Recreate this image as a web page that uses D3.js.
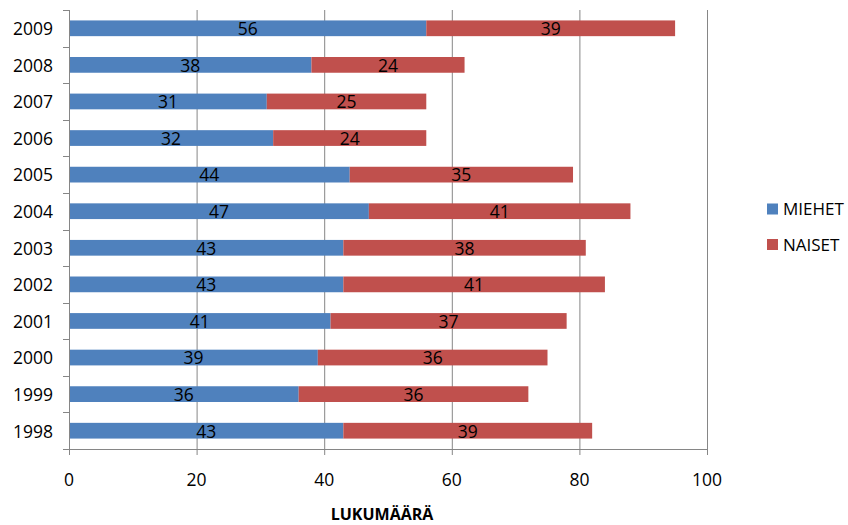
<!DOCTYPE html>
<html><head><meta charset="utf-8">
<script src="https://cdn.jsdelivr.net/npm/d3@7"></script>
<style>body{margin:0;background:#fff}svg{display:block}text{font-family:"Open Sans",sans-serif}</style>
</head><body><svg id="c" width="848" height="525"></svg>
<script>
const years = ["1998","1999","2000","2001","2002","2003","2004","2005","2006","2007","2008","2009"];
const miehet = [43,36,39,41,43,43,47,44,32,31,38,56];
const naiset = [39,36,36,37,41,38,41,35,24,25,24,39];
const xTicks = [0,20,40,60,80,100];
const seriesNames = ["MIEHET","NAISET"];
const colors = ["#4F81BD","#C0504D"];

const svg = d3.select("#c");
const L=69, R=707, T=10, B=449;
const x = d3.scaleLinear().domain([0,100]).range([L,R]);
const y = d3.scaleBand().domain(years.slice().reverse()).range([T,B]).paddingInner(0.57).paddingOuter(0.285);
const yb = d3.scaleBand().domain(years.slice().reverse()).range([T,B]);

// gridlines
svg.append("g").selectAll("line").data(xTicks.slice(1)).join("line")
  .attr("x1",d=>x(d)+0.5).attr("x2",d=>x(d)+0.5).attr("y1",T).attr("y2",B)
  .attr("stroke","#868686").attr("stroke-width",1);

const rows = years.map((yr,i)=>({yr, m:miehet[i], n:naiset[i]}));
const g = svg.append("g");
rows.forEach(r=>{
  const segs=[{x0:0,x1:r.m,v:r.m,c:colors[0]},{x0:r.m,x1:r.m+r.n,v:r.n,c:colors[1]}];
  segs.forEach(s=>{
    g.append("rect").attr("x",x(s.x0)).attr("width",x(s.x1)-x(s.x0))
      .attr("y",y(r.yr)).attr("height",y.bandwidth()).attr("fill",s.c);
    g.append("text").attr("x",(x(s.x0)+x(s.x1))/2).attr("y",y(r.yr)+y.bandwidth()/2+0.5)
      .attr("dy","0.36em").attr("text-anchor","middle").attr("font-size",17.5).attr("fill","#000").text(s.v);
  });
});

// y axis
svg.append("line").attr("x1",L+0.5).attr("x2",L+0.5).attr("y1",T).attr("y2",B).attr("stroke","#868686");
const yTickPos = years.map(yr=>yb(yr)).concat([B]);
svg.append("g").selectAll("line").data(yTickPos).join("line")
  .attr("x1",L-6).attr("x2",L).attr("y1",d=>Math.round(d)+0.5).attr("y2",d=>Math.round(d)+0.5).attr("stroke","#868686");
svg.append("g").selectAll("text").data(years).join("text")
  .attr("x",53).attr("y",d=>yb(d)+yb.bandwidth()/2+0.5).attr("dy","0.36em").attr("text-anchor","end")
  .attr("font-size",17.5).attr("fill","#000").text(d=>d);

// x axis
svg.append("line").attr("x1",L-6).attr("x2",R).attr("y1",B+0.5).attr("y2",B+0.5).attr("stroke","#868686");
svg.append("g").selectAll("line").data(xTicks).join("line")
  .attr("x1",d=>x(d)+0.5).attr("x2",d=>x(d)+0.5).attr("y1",B).attr("y2",B+6).attr("stroke","#868686");
svg.append("g").selectAll("text").data(xTicks).join("text")
  .attr("x",d=>x(d)).attr("y",480).attr("dy","0.36em").attr("text-anchor","middle")
  .attr("font-size",17.5).attr("fill","#000").text(d=>d);
svg.append("text").attr("x",382).attr("y",514).attr("dy","0.36em").attr("text-anchor","middle")
  .attr("font-size",16).attr("font-weight","bold").attr("fill","#000").text("LUKUMÄÄRÄ");

// legend
const lg = svg.append("g");
seriesNames.forEach((s,i)=>{
  const cy = 209 + i*35.5;
  lg.append("rect").attr("x",767).attr("y",cy-5.5).attr("width",11).attr("height",11).attr("fill",colors[i]);
  lg.append("text").attr("x",783).attr("y",cy).attr("dy","0.36em").attr("font-size",17).attr("fill","#000").text(s);
});
</script></body></html>
